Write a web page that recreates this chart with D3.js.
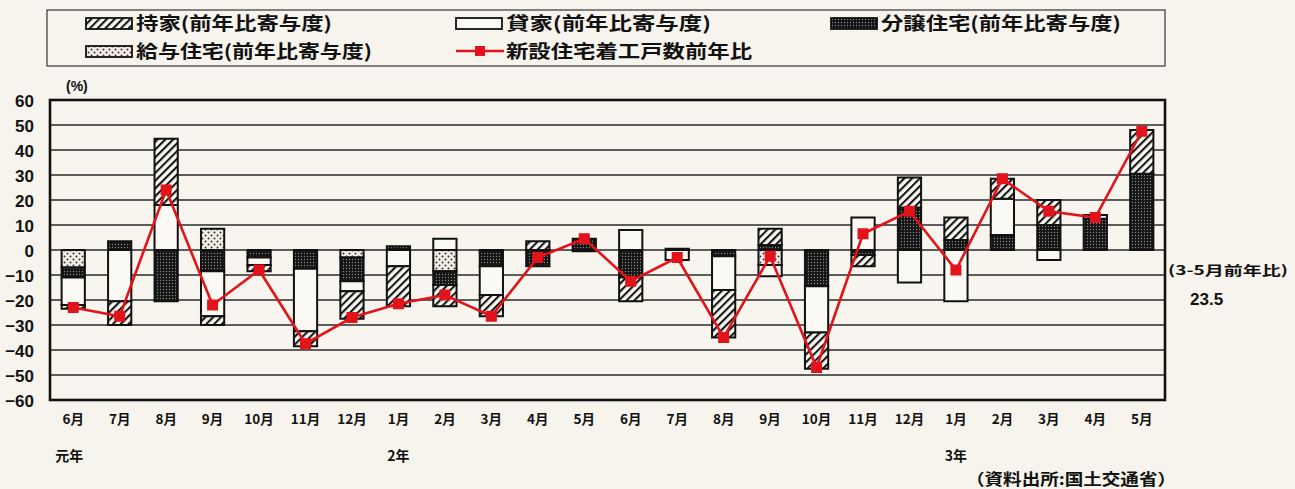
<!DOCTYPE html>
<html><head><meta charset="utf-8">
<script src="https://cdn.jsdelivr.net/npm/d3@7"></script>
<style>body{margin:0;background:#f6f4ec;} svg{display:block}</style>
</head><body><svg id="c" width="1295" height="489"></svg>
<script>
// ---- data ----
const categories = ["6月","7月","8月","9月","10月","11月","12月","1月","2月","3月","4月","5月","6月","7月","8月","9月","10月","11月","12月","1月","2月","3月","4月","5月"];
const mochiie = [-1.5,-9.5,26.5,-3.5,-2.5,-6,-11,-16,-8.5,-8.5,3.5,0,-9.5,0,-19,6.5,-14.5,-4.5,12,9,8,10,0,17.5];
const kashiya = [-11,-20.5,18,-18,-3,-25,-4,-6.5,4.5,-11.5,0,-0.5,8,-4,-13.5,-4.5,-18.5,13,-13,-20.5,14.5,-4,1.5,0];
const bunjo   = [-4,3.5,-20.5,-8.5,-3,-7.5,-9.5,1.5,-5.5,-6,-6.5,4.5,-11,0.5,-2.5,2,-14.5,-2,17,4,6,10,12.5,30.5];
const kyuyo   = [-7,0,0,8.5,0,0,-3,0,-8.5,-0.5,0,0,0,0,0,-6,0,0,0,0,0,0,0,0];
const total   = [-23,-26.5,24,-22,-8,-37.5,-27,-21.5,-18,-26.5,-3,4.5,-12.5,-3,-35,-2.5,-47,6.5,15.5,-8,28.5,15.5,13,47.5];
const yTicks = [-60,-50,-40,-30,-20,-10,0,10,20,30,40,50,60];
const yearLabels = ["元年","2年","3年"];
const yearIdx = [0,7,19];
const seriesKeys = ["kyuyo","bunjo","kashiya","mochiie"];
const legendNames = {mochiie:"持家(前年比寄与度)", kashiya:"貸家(前年比寄与度)", bunjo:"分譲住宅(前年比寄与度)", kyuyo:"給与住宅(前年比寄与度)", total:"新設住宅着工戸数前年比"};
const noteLabel = "(3-5月前年比)";
const noteValue = "23.5";
const sourceLabel = "（資料出所:国土交通省）";

// ---- setup ----
const svg = d3.select("#c");
const JP = "'Noto Sans CJK JP','Noto Sans CJK SC',sans-serif";
const NUM = "'Liberation Sans',Arial,sans-serif";
const L = 50, R = 1165, T = 100, B = 400;
svg.append("rect").attr("width",1295).attr("height",489).attr("fill","#f6f4ec");

const defs = svg.append("defs");
const ph = defs.append("pattern").attr("id","hatch").attr("patternUnits","userSpaceOnUse")
  .attr("width",5.5).attr("height",5.5).attr("patternTransform","rotate(45)");
ph.append("rect").attr("width",5.5).attr("height",5.5).attr("fill","#faf9f3");
ph.append("line").attr("x1",1).attr("y1",0).attr("x2",1).attr("y2",5.5).attr("stroke","#151515").attr("stroke-width",2.2);
const pd = defs.append("pattern").attr("id","dense").attr("patternUnits","userSpaceOnUse").attr("width",3).attr("height",3);
pd.append("rect").attr("width",3).attr("height",3).attr("fill","#141414");
pd.append("circle").attr("cx",1.5).attr("cy",1.5).attr("r",0.65).attr("fill","#8a8a8a");
const ps = defs.append("pattern").attr("id","sparse").attr("patternUnits","userSpaceOnUse").attr("width",6).attr("height",6);
ps.append("rect").attr("width",6).attr("height",6).attr("fill","#f4ede6");
ps.append("circle").attr("cx",1.5).attr("cy",1.5).attr("r",1).attr("fill","#333");
ps.append("circle").attr("cx",4.5).attr("cy",4.5).attr("r",1).attr("fill","#333");
const fills = {mochiie:"url(#hatch)", kashiya:"#faf9f3", bunjo:"url(#dense)", kyuyo:"url(#sparse)"};

const x = d3.scaleBand().domain(d3.range(categories.length)).range([L,R]).padding(0);
const y = d3.scaleLinear().domain([-60,60]).range([B,T]);
const bw = x.bandwidth()*0.5;

// plot background
svg.append("rect").attr("x",L).attr("y",T).attr("width",R-L).attr("height",B-T).attr("fill","#f7f5ee");
// gridlines
svg.append("g").selectAll("line").data(yTicks.filter(t=>t>-60&&t<60)).join("line")
  .attr("x1",L).attr("x2",R).attr("y1",d=>y(d)).attr("y2",d=>y(d))
  .attr("stroke","#2a2a2a").attr("stroke-width",1.4);

// stacked bars
const rows = categories.map((c,i)=>({i, mochiie:mochiie[i], kashiya:kashiya[i], bunjo:bunjo[i], kyuyo:kyuyo[i]}));
const stacked = d3.stack().keys(seriesKeys).offset(d3.stackOffsetDiverging)(rows);
const gb = svg.append("g");
stacked.forEach(s=>{
  gb.append("g").selectAll("rect").data(s.filter(d=>d[1]!==d[0])).join("rect")
    .attr("x",d=>x(d.data.i)+(x.bandwidth()-bw)/2)
    .attr("width",bw)
    .attr("y",d=>y(Math.max(d[0],d[1])))
    .attr("height",d=>Math.abs(y(d[0])-y(d[1])))
    .attr("fill",fills[s.key]).attr("stroke","#111").attr("stroke-width",2);
});

// line
const cx = i=>x(i)+x.bandwidth()/2;
svg.append("path").datum(total)
  .attr("d",d3.line().x((d,i)=>cx(i)).y(d=>y(d)))
  .attr("fill","none").attr("stroke","#e3131b").attr("stroke-width",2.6);
svg.append("g").selectAll("rect").data(total).join("rect")
  .attr("x",(d,i)=>cx(i)-5.5).attr("y",d=>y(d)-5.5).attr("width",11).attr("height",11).attr("fill","#e3131b");

// frame
svg.append("rect").attr("x",L).attr("y",T).attr("width",R-L).attr("height",B-T)
  .attr("fill","none").attr("stroke","#111").attr("stroke-width",2.6);

// y axis labels
const yAxis = d3.axisLeft(y).tickValues(yTicks).tickSize(0).tickPadding(0);
const ga = svg.append("g").attr("transform",`translate(${L-16},0)`).call(yAxis);
ga.select(".domain").remove();
ga.selectAll("text").attr("font-family",NUM).attr("font-weight","bold").attr("font-size",17).attr("fill","#111").attr("dy","0.36em");
svg.append("text").attr("x",66).attr("y",91).text("(%)").attr("font-family",NUM).attr("font-weight","bold").attr("font-size",14).attr("fill","#111");

// x axis labels
const xAxis = d3.axisBottom(x).tickFormat(i=>categories[i]).tickSize(0).tickPadding(0);
const gx = svg.append("g").attr("transform",`translate(0,${B+14})`).call(xAxis);
gx.select(".domain").remove();
gx.selectAll("text").attr("font-family",JP).attr("font-weight","bold").attr("font-size",13.5).attr("fill","#111");
svg.append("g").selectAll("text").data(yearLabels).join("text")
  .attr("x",(d,i)=>cx(yearIdx[i])-(i===0?4:0)).attr("y",461).attr("text-anchor","middle").text(d=>d)
  .attr("font-family",JP).attr("font-weight","bold").attr("font-size",14).attr("fill","#111");

// notes
svg.append("text").attr("x",1168).attr("y",275).text(noteLabel).attr("font-family",JP).attr("font-weight","bold")
  .attr("font-size",13).attr("fill","#111").attr("textLength",120).attr("lengthAdjust","spacingAndGlyphs");
svg.append("text").attr("x",1190).attr("y",305).text(noteValue).attr("font-family",NUM).attr("font-weight","bold")
  .attr("font-size",17).attr("fill","#111");
svg.append("text").attr("x",966).attr("y",485).text(sourceLabel).attr("font-family",JP).attr("font-weight","bold")
  .attr("font-size",16).attr("fill","#111").attr("textLength",210).attr("lengthAdjust","spacingAndGlyphs");

// legend
svg.append("rect").attr("x",47).attr("y",10).attr("width",1118).attr("height",56).attr("fill","none").attr("stroke","#444").attr("stroke-width",1.3);
const legItems = [
  {k:"mochiie", x:86, y:23, w:196},
  {k:"kashiya", x:456, y:23, w:205},
  {k:"bunjo", x:831, y:23, w:240},
  {k:"kyuyo", x:86, y:51, w:236},
  {k:"total", x:456, y:51, w:246}
];
const gl = svg.append("g");
legItems.forEach(it=>{
  if(it.k==="total"){
    gl.append("line").attr("x1",it.x).attr("x2",it.x+48).attr("y1",it.y).attr("y2",it.y).attr("stroke","#e3131b").attr("stroke-width",2.6);
    gl.append("rect").attr("x",it.x+24-5).attr("y",it.y-5).attr("width",10).attr("height",10).attr("fill","#e3131b");
  } else {
    gl.append("rect").attr("x",it.x).attr("y",it.y-5).attr("width",46).attr("height",11).attr("fill",fills[it.k]).attr("stroke","#111").attr("stroke-width",1.8);
  }
  gl.append("text").attr("x",it.x+50).attr("y",it.y+7).text(legendNames[it.k])
    .attr("font-family",JP).attr("font-weight","bold").attr("font-size",18).attr("fill","#111")
    .attr("textLength",it.w).attr("lengthAdjust","spacingAndGlyphs");
});
</script></body></html>
